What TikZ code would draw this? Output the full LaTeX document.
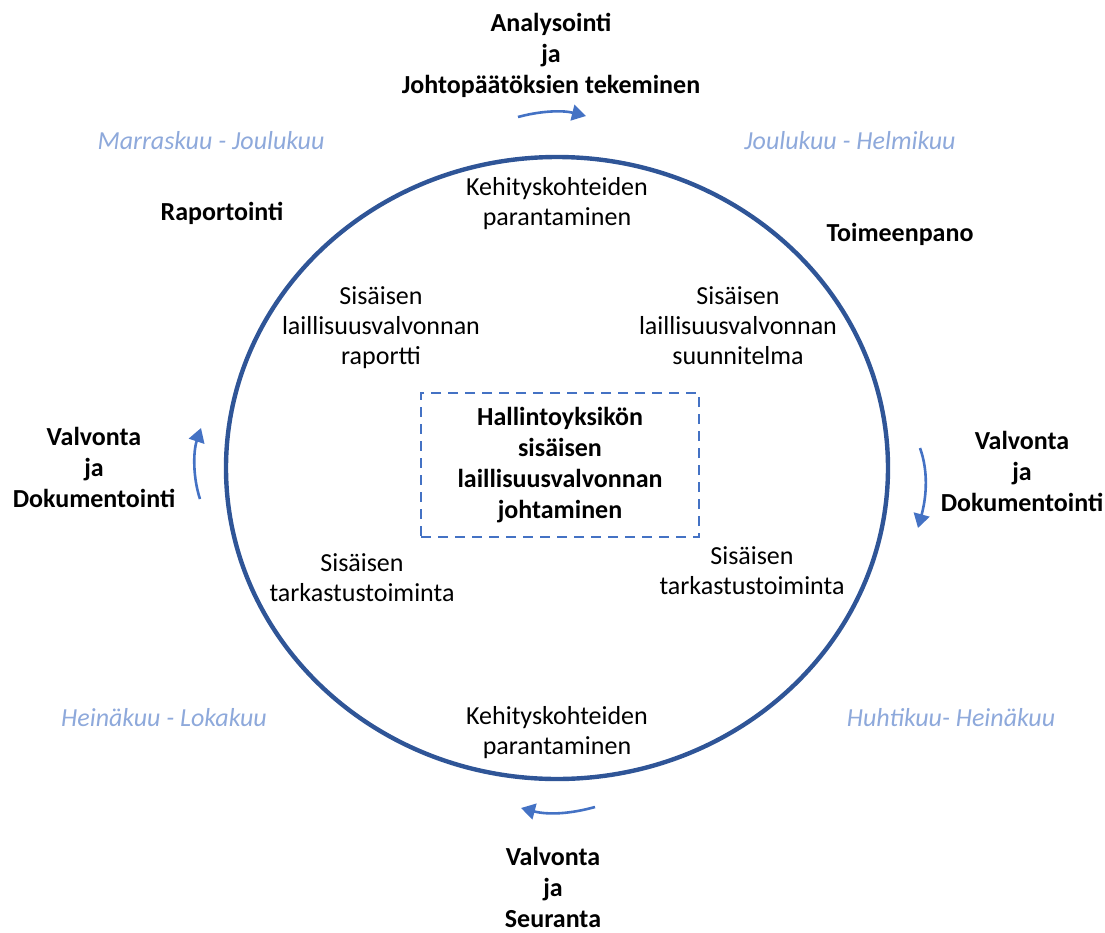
\documentclass[tikz,border=0pt]{standalone}
\usepackage{fontspec}
\setmainfont{Carlito}
\usetikzlibrary{arrows.meta}

\definecolor{ringblue}{HTML}{2F5597}
\definecolor{arrowblue}{HTML}{4472C4}
\definecolor{monthblue}{HTML}{8EA9DB}

\tikzset{
	cyclepicture/.style = {
		x = 0.5pt,
		y = -0.5pt,
		every node/.style = {
			align = center,
			inner sep = 0pt,
			font = \fontsize{13}{15}\selectfont
		},
		turn/.style = {
			draw = arrowblue,
			line width = 1.3pt,
			-{Triangle[width = 8pt, length = 7pt]}
		}
	},
	phase/.style = {
		font = \fontsize{13}{15.5}\selectfont\bfseries
	},
	month/.style = {
		text = monthblue,
		font = \fontsize{13}{15}\selectfont\itshape
	},
	ring/.style = {
		draw = ringblue,
		line width = 2.2pt
	},
	focus/.style = {
		draw = arrowblue,
		line width = 1pt,
		dash pattern = on 5pt off 3.5pt,
		minimum width = 139pt,
		minimum height = 72pt
	}
}

\begin{document}
\begin{tikzpicture}[cyclepicture]
	\useasboundingbox (0,0) rectangle (1105,933);

	% the yearly cycle
	\draw[ring] (557,468) ellipse [x radius = 331, y radius = 311];

	\node[focus, phase] (lead) at (560,465) {Hallintoyksikön\\sisäisen\\laillisuusvalvonnan\\johtaminen};

	% stages outside the ring
	\node[phase] (analyse) at (551,55) {Analysointi\\ja\\Johtopäätöksien tekeminen};
	\node[phase] (report) at (222,213) {Raportointi};
	\node[phase] (execute) at (900,234) {Toimeenpano};
	\node[phase] (docleft) at (94,467) {Valvonta\\ja\\Dokumentointi};
	\node[phase] (docright) at (1022,471) {Valvonta\\ja\\Dokumentointi};
	\node[phase] (follow) at (553,887) {Valvonta\\ja\\Seuranta};

	% months
	\node[month] (novdec) at (211,141) {Marraskuu - Joulukuu};
	\node[month] (decfeb) at (850,141) {Joulukuu - Helmikuu};
	\node[month] (juloct) at (164,718) {Heinäkuu - Lokakuu};
	\node[month] (aprjul) at (951,718) {Huhtikuu- Heinäkuu};

	% tasks inside the ring
	\node (improvetop) at (557,204) {Kehityskohteiden\\parantaminen};
	\node (report2) at (381,328) {Sisäisen\\laillisuusvalvonnan\\raportti};
	\node (plan) at (738,326) {Sisäisen\\laillisuusvalvonnan\\suunnitelma};
	\node (auditleft) at (362,578) {Sisäisen\\tarkastustoiminta};
	\node (auditright) at (752,571) {Sisäisen\\tarkastustoiminta};
	\node (improvebottom) at (557,733) {Kehityskohteiden\\parantaminen};

	% direction of the cycle
	\coordinate (t1) at (518,117);
	\coordinate (t2) at (586,116);
	\coordinate (r1) at (920,448);
	\coordinate (r2) at (918,528);
	\coordinate (b1) at (595,807);
	\coordinate (b2) at (521,808);
	\coordinate (l1) at (200,499);
	\coordinate (l2) at (201,428);

	\begin{scope}[every path/.style = turn]
		\path (t1) .. controls (540,111) and (562,110) .. (t2);
		\path (r1) .. controls (928,470) and (927,495) .. (r2);
		\path (b1) .. controls (570,814) and (548,815) .. (b2);
		\path (l1) .. controls (193,478) and (193,452) .. (l2);
	\end{scope}
\end{tikzpicture}
\end{document}
